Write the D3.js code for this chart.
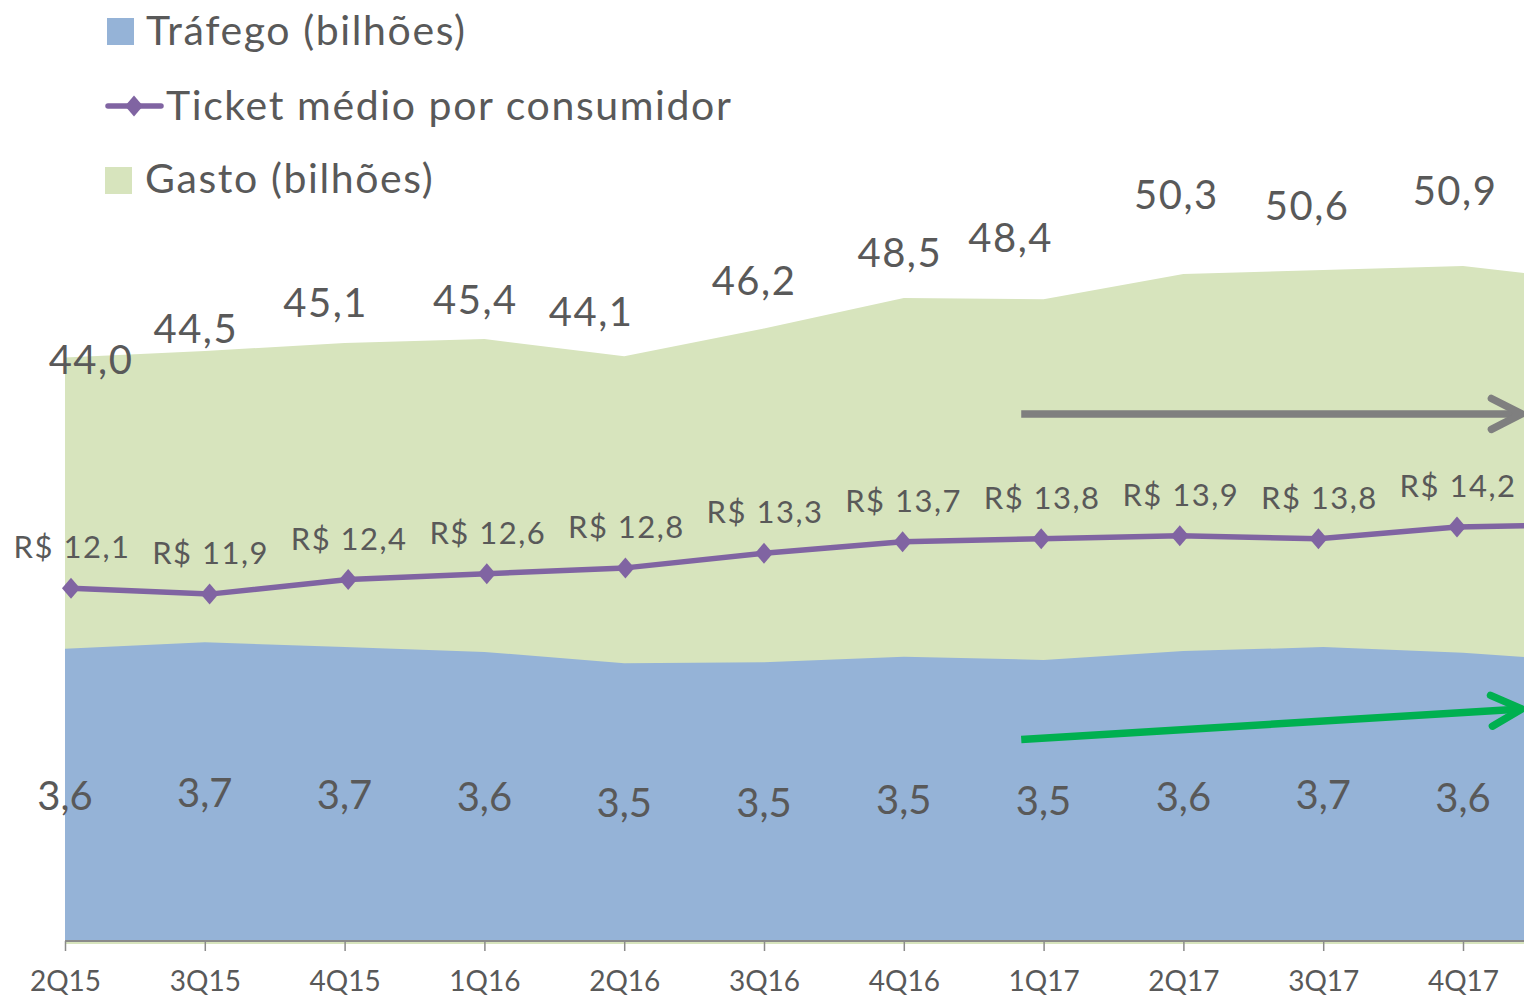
<!DOCTYPE html>
<html>
<head>
<meta charset="utf-8">
<script src="https://cdn.jsdelivr.net/npm/d3@7"></script>
<style>
  html, body { margin: 0; padding: 0; background: #fff; }
  svg { display: block; }
  text { font-family: Lato, "Open Sans", sans-serif; fill: #595959; }
</style>
</head>
<body>
<svg id="chart" width="1524" height="996"></svg>
<script>
// ---- Data ----
const categories = ["2Q15","3Q15","4Q15","1Q16","2Q16","3Q16","4Q16","1Q17","2Q17","3Q17","4Q17","1Q18"];
const trafego = [3.64, 3.72, 3.66, 3.60, 3.46, 3.47, 3.54, 3.50, 3.61, 3.66, 3.59, 3.47];
const gasto   = [44.0, 44.5, 45.1, 45.4, 44.1, 46.2, 48.5, 48.4, 50.3, 50.6, 50.9, 49.7];
const ticket  = [12.1, 11.9, 12.4, 12.6, 12.8, 13.3, 13.7, 13.8, 13.9, 13.8, 14.2, 14.3];
const legendLabels = ["Tráfego (bilhões)", "Ticket médio por consumidor", "Gasto (bilhões)"];
// annotation arrows, in category-index / value terms
const grayArrow  = {from: [6.84, 39.75], to: [10.42, 39.75]};   // on gasto scale
const greenArrow = {from: [6.84, 2.51],  to: [10.42, 2.89]};    // on tráfego scale

// ---- Layout / styles ----
const W = 1524, H = 996;
const baseY = 941, plotH = 800;
const C = { blue: "#95b3d7", green: "#d7e4bd", line: "#8064a2", text: "#595959", axis: "#8a8a8a" };
// manual nudges for the gasto labels (dx, dy of baseline from point)
const gastoNudge = [[25,16],[-10,-8],[-20,-26],[-10,-25],[-34,-30],[-11,-33],[-5,-31],[-34,-47],[-8,-65],[-17,-50],[-9,-61],[0,-40]];

const svg = d3.select("#chart");
const fmt = v => d3.format(".1f")(v).replace(".", ",");

const x = d3.scalePoint().domain(categories).range([65, 65 + 11 * 139.8]);
const xLine = d3.scalePoint().domain(categories).range([71, 71 + 11 * 138.6]);
const xIdx = d3.scaleLinear().domain([0, categories.length - 1]).range(x.range());
const yB = d3.scaleLinear().domain([0, plotH / 80.3]).range([baseY, baseY - plotH]);
const yG = d3.scaleLinear().domain([0, plotH / 13.26]).range([baseY, baseY - plotH]);
const yT = d3.scaleLinear().domain([0, plotH / 29.15]).range([baseY, baseY - plotH]);

const idx = d3.range(categories.length);
const visible = idx.filter(i => x(categories[i]) < W);   // points whose labels fall inside the picture

// Gasto area
svg.append("path")
  .attr("fill", C.green)
  .attr("d", d3.area().x(i => x(categories[i])).y0(baseY + 3).y1(i => yG(gasto[i]))(idx));

// Tráfego area
svg.append("path")
  .attr("fill", C.blue)
  .attr("d", d3.area().x(i => x(categories[i])).y0(baseY).y1(i => yB(trafego[i]))(idx));

// X axis
const xAxis = d3.axisBottom(x).tickValues(visible.map(i => categories[i])).tickSize(10).tickPadding(20);
const gAx = svg.append("g").attr("transform", `translate(0,${baseY})`).call(xAxis);
gAx.select(".domain").attr("stroke", C.axis).attr("stroke-width", 2).attr("d", `M65,0H${W + 100}`);
gAx.selectAll(".tick line").attr("stroke", C.axis).attr("stroke-width", 1.5);
gAx.selectAll(".tick text").attr("fill", C.text).style("font-size", "28px").style("font-family", "Lato, sans-serif");

// Arrows
function arrow(a, yScale, color) {
  const x1 = xIdx(a.from[0]), y1 = yScale(a.from[1]);
  const x2 = xIdx(a.to[0]), y2 = yScale(a.to[1]);
  const ang = Math.atan2(y2 - y1, x2 - x1);
  const L = 34, h = 27 * Math.PI / 180;
  const p1 = [x2 - L * Math.cos(ang - h), y2 - L * Math.sin(ang - h)];
  const p2 = [x2 - L * Math.cos(ang + h), y2 - L * Math.sin(ang + h)];
  const g = svg.append("g").attr("stroke", color).attr("stroke-width", 7.5)
    .attr("fill", "none").attr("stroke-linecap", "round").attr("stroke-linejoin", "round");
  g.append("path").attr("stroke-linecap", "butt").attr("d", `M${x1},${y1}L${x2},${y2}`);
  g.append("path").attr("d", `M${p1[0]},${p1[1]}L${x2},${y2}L${p2[0]},${p2[1]}`);
}
arrow(grayArrow, yG, "#7f7f7f");
arrow(greenArrow, yB, "#00b050");

// Ticket line
svg.append("path")
  .attr("fill", "none").attr("stroke", C.line).attr("stroke-width", 5.5).attr("stroke-linejoin", "round")
  .attr("d", d3.line().x(i => xLine(categories[i])).y(i => yT(ticket[i]))(idx));
const diamond = "M0,-10.5L9,0L0,10.5L-9,0Z";
svg.append("g").selectAll("path").data(idx).join("path")
  .attr("fill", C.line).attr("d", diamond)
  .attr("transform", i => `translate(${xLine(categories[i])},${yT(ticket[i])})`);

// Labels: ticket
svg.append("g").selectAll("text").data(visible).join("text")
  .attr("x", i => xLine(categories[i]) + 1).attr("y", i => yT(ticket[i]) - 30)
  .attr("text-anchor", "middle").style("font-size", "31px").style("letter-spacing", "1.5px")
  .text(i => "R$ " + fmt(ticket[i]));

// Labels: gasto
svg.append("g").selectAll("text").data(visible).join("text")
  .attr("x", i => x(categories[i]) + gastoNudge[i][0] + 1).attr("y", i => yG(gasto[i]) + gastoNudge[i][1])
  .attr("text-anchor", "middle").style("font-size", "40px").style("letter-spacing", "1.5px")
  .text(i => fmt(gasto[i]));

// Labels: trafego (centered in area)
svg.append("g").selectAll("text").data(visible).join("text")
  .attr("x", i => x(categories[i])).attr("y", i => (yB(trafego[i]) + baseY) / 2)
  .attr("text-anchor", "middle").attr("dominant-baseline", "central").style("font-size", "40px")
  .text(i => fmt(trafego[i]));

// Legend
const lg = svg.append("g");
lg.append("rect").attr("x", 107).attr("y", 18).attr("width", 27).attr("height", 27).attr("fill", C.blue);
lg.append("text").attr("x", 146).attr("y", 45).style("font-size", "41px").style("letter-spacing", "1.6px").text(legendLabels[0]);
lg.append("line").attr("x1", 108).attr("x2", 161).attr("y1", 106).attr("y2", 106)
  .attr("stroke", C.line).attr("stroke-width", 5.5).attr("stroke-linecap", "round");
lg.append("path").attr("d", diamond).attr("fill", C.line).attr("transform", "translate(134,106)");
lg.append("text").attr("x", 166).attr("y", 120).style("font-size", "41px").style("letter-spacing", "1.6px").text(legendLabels[1]);
lg.append("rect").attr("x", 105).attr("y", 167).attr("width", 27).attr("height", 27).attr("fill", C.green);
lg.append("text").attr("x", 145).attr("y", 193).style("font-size", "41px").style("letter-spacing", "1.6px").text(legendLabels[2]);
</script>
</body>
</html>
